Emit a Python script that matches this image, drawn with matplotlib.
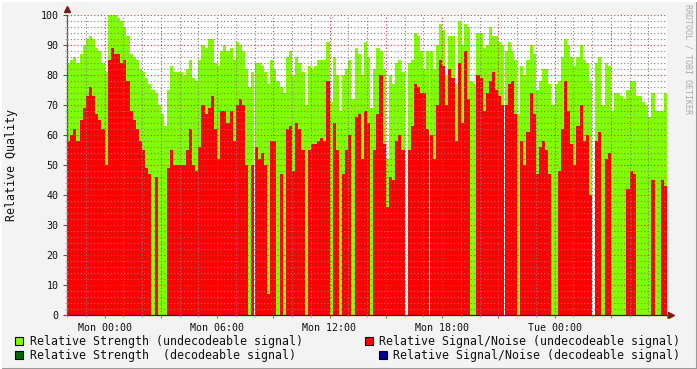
import matplotlib
matplotlib.use('Agg')
import matplotlib.pyplot as plt
from matplotlib.patches import Rectangle
from matplotlib.lines import Line2D
import numpy as np

nan = np.nan

# 10 minute steps, first step starts Sun 22:00 (= -2 h from Mon 00:00)
START_H = -2
STEP_H = 1 / 6

# relative strength (undecodeable signal), green area
strength = [
    84, 85, 86, 84, 87, 90, 92, 93, 92, 89,
    88, 84, 81, 100, 100, 100, 99, 98, 96, 93,
    87, 86, 85, 82, 81, 79, 77, 75, 74, 70,
    67, 63, 75, 83, 81, 81, 81, 80, 82, 85,
    79, 78, 85, 90, 89, 92, 92, 84, 83, 88,
    90, 88, 89, 85, 91, 90, 88, 82, 76, 81,
    84, 84, 83, 81, 77, 85, 82, 78, 76, 74,
    86, 88, 80, 86, 84, 81, 70, 83, 82, 83,
    85, 85, 85, 91, 71, 86, 80, 68, 80, 82,
    85, 72, 89, 87, 80, 91, 86, 69, 82, 89,
    88, 82, 52, 80, 77, 84, 85, 81, nan, 84,
    85, 94, 93, 88, 82, 88, 88, 82, 90, 97,
    95, 80, 93, 93, 77, 98, 90, 97, 96, 78,
    77, 94, 94, 89, 90, 96, 93, 93, 91, 90,
    88, 91, 88, 85, 67, 83, 80, 85, 90, 87,
    75, 78, 82, 82, 77, 70, 77, 78, 86, 92,
    90, 86, 83, 86, 90, 85, 84, 78, nan, 84,
    86, 70, 84, 83, 68, 74, 74, 73, 72, 75,
    78, 78, 73, 73, 71, 70, 66, 74, 68, 68,
    68, 74,
]

# relative signal/noise (undecodeable signal), red area
snr = [
    58, 60, 62, 58, 65, 69, 73, 76, 73, 67,
    65, 62, 50, 85, 89, 87, 87, 84, 85, 78,
    68, 65, 62, 58, 55, 49, 47, 0, 46, 0,
    0, 0, 49, 55, 50, 50, 50, 50, 55, 62,
    50, 48, 56, 70, 67, 69, 73, 62, 52, 68,
    68, 64, 68, 58, 70, 72, 70, 50, 0, 50,
    56, 52, 54, 50, 7, 58, 58, 0, 47, 0,
    62, 63, 48, 64, 62, 55, 0, 55, 57, 57,
    58, 59, 58, 78, 0, 64, 55, 0, 47, 55,
    60, 0, 66, 67, 52, 68, 64, 0, 55, 67,
    80, 57, 36, 46, 45, 58, 60, 55, nan, 55,
    63, 77, 76, 74, 74, 62, 60, 52, 70, 85,
    83, 70, 82, 79, 58, 84, 64, 88, 72, 0,
    0, 80, 79, 68, 74, 78, 81, 75, 73, 70,
    70, 77, 78, 67, 0, 58, 50, 61, 74, 67,
    47, 56, 58, 55, 47, 0, 0, 48, 62, 78,
    68, 57, 50, 63, 70, 58, 60, 40, nan, 58,
    61, 0, 52, 54, 0, 0, 0, 0, 0, 42,
    48, 47, 0, 0, 0, 0, 0, 45, 0, 0,
    45, 43,
]

x_label_hours = [0, 6, 12, 18, 24]
x_labels = ['Mon 00:00', 'Mon 06:00', 'Mon 12:00', 'Mon 18:00', 'Tue 00:00']

legend_labels = ['Relative Strength (undecodeable signal)',
                 'Relative Signal/Noise (undecodeable signal)',
                 'Relative Strength  (decodeable signal)',
                 'Relative Signal/Noise (decodeable signal)']
legend_colors = ['#80ff00', '#ff0000', '#006600', '#000099']

MONO = 'DejaVu Sans Mono'
W, H = 697, 369

fig = plt.figure(figsize=(W / 100, H / 100), dpi=100, facecolor='#f3f3f3')
ax = fig.add_axes([67 / W, 54 / H, 600 / W, 300 / H])
ax.set_facecolor('white')

strength = np.array(strength, dtype=float)
snr = np.array(snr, dtype=float)
hours = START_H + STEP_H * np.arange(len(strength))

ok = ~np.isnan(strength)
ax.bar(hours[ok], strength[ok], width=STEP_H, align='edge', color='#80ff00',
       linewidth=0, antialiased=False, zorder=1)
ok = ~np.isnan(snr)
ax.bar(hours[ok], snr[ok], width=STEP_H, align='edge', color='#ff0000',
       linewidth=0, antialiased=False, zorder=1.1)

ax.set_xlim(START_H, START_H + STEP_H * len(strength))
ax.set_ylim(0, 100)

# grid: minor every hour / 2 units, major every 3 h / 10 units
major_x = np.arange(0, 31, 3)
ax.set_xticks(major_x, labels=[x_labels[x_label_hours.index(h)] if h in x_label_hours else ''
                               for h in major_x])
ax.set_xticks(np.arange(-2, 31, 1), minor=True)
ax.set_yticks(range(0, 101, 10))
ax.set_yticks(range(0, 101, 2), minor=True)
ax.set_axisbelow(False)
ax.grid(which='minor', color=(0.5, 0.5, 0.5, 0.2), linestyle=(0, (1, 2)), linewidth=0.8)
ax.grid(which='major', color=(0.9, 0.2, 0.2, 0.3), linestyle=(0, (1, 2)), linewidth=0.8)

ax.tick_params(which='major', axis='y', length=3, width=0.8, pad=3, color='#555555',
               labelsize=7.2, labelcolor='#111111')
ax.tick_params(which='major', axis='x', length=2, width=0.8, pad=4, color='#c06060',
               labelsize=7.2, labelcolor='#111111')
ax.tick_params(which='minor', length=1.5, width=0.8, color='#aaaaaa')
for lab in ax.get_xticklabels() + ax.get_yticklabels():
    lab.set_family(MONO)

for s in ['top', 'right']:
    ax.spines[s].set_visible(False)
ax.spines['left'].set_color('#444444')
ax.spines['bottom'].set_color('#222255')
ax.spines['left'].set_linewidth(0.9)
ax.spines['bottom'].set_linewidth(0.9)

# axis arrows
ax.plot([0], [1.02], marker='^', color='#7a1a1a', markersize=4, transform=ax.transAxes, clip_on=False)
ax.plot([1.007], [0], marker='>', color='#7a1a1a', markersize=4, transform=ax.transAxes, clip_on=False)

fig.text(12 / W, 1 - 165 / H, 'Relative Quality', rotation=90, ha='center', va='center',
         family=MONO, fontsize=8.4, color='#111111')
fig.text(688 / W, 1 - 4 / H, 'RRDTOOL / TOBI OETIKER', rotation=270, ha='center', va='top',
         family=MONO, fontsize=6, color='#aaaaaa')

# legend
rows = [(15, 30, 341, 'left'), (365, 680, 341, 'right'),
        (15, 30, 355, 'left'), (379, 680, 355, 'right')]
for (sq_x, tx, ty, ha), label, col in zip(rows, legend_labels, legend_colors):
    fig.add_artist(Rectangle((sq_x / W, 1 - (ty + 4) / H), 8 / W, 8 / H, transform=fig.transFigure,
                             facecolor=col, edgecolor='black', linewidth=0.8))
    fig.text(tx / W, 1 - ty / H, label, ha=ha, va='center', family=MONO,
             fontsize=8.4, color='#111111')

# frame shade
fig.add_artist(Line2D([0, 1], [0.5 / H, 0.5 / H], color='#9a9a9a', linewidth=1.5, transform=fig.transFigure))
fig.add_artist(Line2D([1 - 0.5 / W, 1 - 0.5 / W], [0, 1], color='#9a9a9a', linewidth=1.5, transform=fig.transFigure))
fig.add_artist(Line2D([0, 1], [1 - 0.5 / H, 1 - 0.5 / H], color='#ffffff', linewidth=1.5, transform=fig.transFigure))
fig.add_artist(Line2D([0.5 / W, 0.5 / W], [0, 1], color='#ffffff', linewidth=1.5, transform=fig.transFigure))

fig.savefig('out.png', dpi=100, facecolor=fig.get_facecolor())
